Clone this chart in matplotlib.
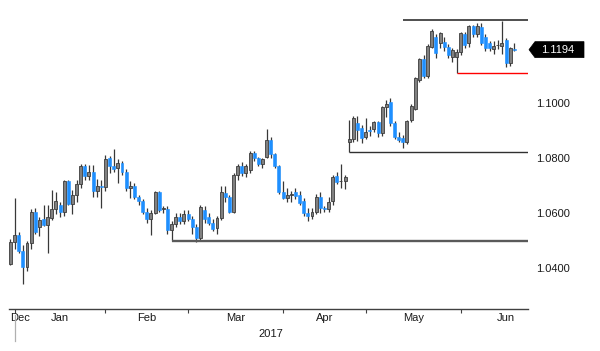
import matplotlib
matplotlib.use("Agg")
import matplotlib.pyplot as plt
from matplotlib import font_manager
from matplotlib.patches import Polygon
from matplotlib.lines import Line2D
import pandas as pd
import numpy as np

# ---------------- data (EUR/USD daily candles) ----------------
dates = pd.bdate_range("2016-12-29", "2017-06-19")

opens = [
    1.0415, 1.0495,
    1.0520, 1.0460, 1.0405, 1.0490, 1.0605, 1.0550, 1.0578, 1.0555, 1.0583, 1.0615,
    1.0630, 1.0605, 1.0715, 1.0633, 1.0665, 1.0705, 1.0770, 1.0735, 1.0748, 1.0680,
    1.0700, 1.0693,
    1.0800, 1.0770, 1.0765, 1.0782, 1.0750, 1.0690, 1.0700, 1.0660, 1.0645, 1.0605,
    1.0580, 1.0600, 1.0677, 1.0615, 1.0615, 1.0540, 1.0560, 1.0585, 1.0570, 1.0595,
    1.0580, 1.0550, 1.0508, 1.0612, 1.0585, 1.0565, 1.0545, 1.0582, 1.0673, 1.0658,
    1.0605, 1.0738, 1.0770, 1.0745, 1.0756, 1.0818, 1.0800, 1.0780, 1.0804, 1.0865,
    1.0815, 1.0772, 1.0675,
    1.0655, 1.0667, 1.0675, 1.0665, 1.0645, 1.0600, 1.0590, 1.0605, 1.0660, 1.0617,
    1.0615, 1.0645, 1.0735, 1.0715, 1.0716, 1.0858, 1.0869, 1.0927, 1.0909, 1.0876,
    1.0902, 1.0905, 1.0931, 1.0891, 1.0985, 1.1004, 1.0927, 1.0876, 1.0873, 1.0858,
    1.0938, 1.0980, 1.1085, 1.1160, 1.1100, 1.1205, 1.1240, 1.1218, 1.1222, 1.1204,
    1.1167, 1.1167, 1.1185,
    1.1251, 1.1218, 1.1280, 1.1250, 1.1276, 1.1240, 1.1218, 1.1198, 1.1210, 1.1207,
    1.1229, 1.1145, 1.1198,
]
highs = [
    1.0505, 1.0653,
    1.0530, 1.0485, 1.0500, 1.0615, 1.0620, 1.0585, 1.0630, 1.0630, 1.0685, 1.0675,
    1.0640, 1.0720, 1.0720, 1.0684, 1.0720, 1.0778, 1.0780, 1.0775, 1.0775, 1.0725,
    1.0720, 1.0810,
    1.0808, 1.0833, 1.0795, 1.0790, 1.0760, 1.0715, 1.0710, 1.0665, 1.0650, 1.0620,
    1.0610, 1.0680, 1.0680, 1.0625, 1.0625, 1.0570, 1.0600, 1.0600, 1.0610, 1.0610,
    1.0590, 1.0560, 1.0630, 1.0625, 1.0600, 1.0580, 1.0590, 1.0700, 1.0700, 1.0665,
    1.0745, 1.0780, 1.0785, 1.0780, 1.0825, 1.0825, 1.0805, 1.0800, 1.0905, 1.0875,
    1.0820, 1.0775, 1.0715,
    1.0690, 1.0680, 1.0690, 1.0680, 1.0655, 1.0620, 1.0620, 1.0670, 1.0678, 1.0625,
    1.0660, 1.0740, 1.0750, 1.0777, 1.0740, 1.0938, 1.0951, 1.0953, 1.0920, 1.0945,
    1.0915, 1.0935, 1.0935, 1.0990, 1.1011, 1.1020, 1.0935, 1.0895, 1.0885, 1.0940,
    1.0995, 1.1095, 1.1165, 1.1175, 1.1215, 1.1268, 1.1250, 1.1260, 1.1240, 1.1215,
    1.1200, 1.1195, 1.1260,
    1.1260, 1.1285, 1.1285, 1.1290, 1.1290, 1.1250, 1.1225, 1.1225, 1.1230, 1.1298,
    1.1235, 1.1205, 1.1218,
]
lows = [
    1.0410, 1.0470,
    1.0455, 1.0340, 1.0390, 1.0470, 1.0522, 1.0515, 1.0552, 1.0455, 1.0575, 1.0595,
    1.0585, 1.0590, 1.0630, 1.0596, 1.0640, 1.0690, 1.0720, 1.0720, 1.0660, 1.0660,
    1.0620, 1.0680,
    1.0745, 1.0750, 1.0710, 1.0740, 1.0680, 1.0655, 1.0650, 1.0630, 1.0595, 1.0565,
    1.0521, 1.0595, 1.0605, 1.0600, 1.0525, 1.0500, 1.0550, 1.0560, 1.0560, 1.0570,
    1.0525, 1.0495, 1.0500, 1.0565, 1.0555, 1.0535, 1.0525, 1.0575, 1.0640, 1.0600,
    1.0600, 1.0720, 1.0735, 1.0730, 1.0745, 1.0790, 1.0770, 1.0765, 1.0800, 1.0800,
    1.0765, 1.0670, 1.0650,
    1.0640, 1.0640, 1.0650, 1.0630, 1.0590, 1.0570, 1.0580, 1.0595, 1.0600, 1.0605,
    1.0605, 1.0630, 1.0705, 1.0690, 1.0687, 1.0821, 1.0860, 1.0862, 1.0855, 1.0870,
    1.0880, 1.0895, 1.0875, 1.0880, 1.0949, 1.0915, 1.0870, 1.0860, 1.0838, 1.0850,
    1.0930, 1.0975, 1.1075, 1.1090, 1.1090, 1.1200, 1.1165, 1.1200, 1.1190, 1.1165,
    1.1150, 1.1109, 1.1175,
    1.1200, 1.1205, 1.1240, 1.1240, 1.1210, 1.1190, 1.1190, 1.1180, 1.1195, 1.1180,
    1.1130, 1.1135, 1.1190,
]
closes = [
    1.0495, 1.0520,
    1.0460, 1.0405, 1.0490, 1.0605, 1.0530, 1.0575, 1.0556, 1.0585, 1.0615, 1.0645,
    1.0605, 1.0715, 1.0633, 1.0665, 1.0705, 1.0770, 1.0735, 1.0748, 1.0680, 1.0700,
    1.0693, 1.0798,
    1.0770, 1.0760, 1.0782, 1.0750, 1.0690, 1.0700, 1.0660, 1.0645, 1.0605, 1.0580,
    1.0600, 1.0677, 1.0612, 1.0615, 1.0540, 1.0560, 1.0585, 1.0570, 1.0595, 1.0580,
    1.0550, 1.0508, 1.0622, 1.0580, 1.0565, 1.0542, 1.0582, 1.0675, 1.0658, 1.0605,
    1.0738, 1.0770, 1.0745, 1.0772, 1.0818, 1.0800, 1.0780, 1.0795, 1.0865, 1.0815,
    1.0772, 1.0675, 1.0655,
    1.0667, 1.0670, 1.0663, 1.0635, 1.0600, 1.0590, 1.0605, 1.0660, 1.0617, 1.0615,
    1.0640, 1.0730, 1.0713, 1.0716, 1.0730, 1.0870, 1.0945, 1.0902, 1.0873, 1.0895,
    1.0898, 1.0931, 1.0891, 1.0985, 1.0998, 1.0927, 1.0876, 1.0866, 1.0860, 1.0935,
    1.0990, 1.1090, 1.1160, 1.1100, 1.1208, 1.1262, 1.1182, 1.1255, 1.1204, 1.1175,
    1.1193, 1.1185, 1.1255,
    1.1211, 1.1280, 1.1250, 1.1280, 1.1218, 1.1200, 1.1200, 1.1208, 1.1212, 1.1218,
    1.1145, 1.1200, 1.1194,
]

# annotation levels: (price, start date)
levels = [1.1302, 1.1110, 1.0822, 1.0498]
level_starts = ["2017-05-11", "2017-05-30", "2017-04-24", "2017-02-22"]
level_colors = ["#404040", "#ff0000", "#303030", "#5a5a5a"]
level_widths = [1.3, 1.0, 1.0, 1.7]

yticks = [1.04, 1.06, 1.08, 1.10]
year_label = "2017"

# ---------------- font ----------------
avail = {f.name for f in font_manager.fontManager.ttflist}
fam = "Liberation Sans Narrow" if "Liberation Sans Narrow" in avail else "Liberation Sans"
plt.rcParams["font.family"] = [fam, "DejaVu Sans"]

# ---------------- figure ----------------
W, H = 600, 351
fig = plt.figure(figsize=(W / 100, H / 100), dpi=100)
ax = fig.add_axes([9 / W, (H - 309) / H, 519 / W, 304 / H])

n = len(closes)
idx = np.arange(n)
o = np.array(opens); h = np.array(highs); l = np.array(lows); c = np.array(closes)

up = c >= o
ax.vlines(idx, l, h, color="#383838", lw=0.9, zorder=2)
body_h = np.maximum(np.abs(c - o), 0.00025)
body_b = np.minimum(o, c)
ax.bar(idx[up], body_h[up], bottom=body_b[up], width=0.72,
       color="#808080", edgecolor="#3c3c3c", linewidth=0.6, zorder=3)
ax.bar(idx[~up], body_h[~up], bottom=body_b[~up], width=0.72,
       color="#1e8fff", edgecolor="#1e8fff", linewidth=0.4, zorder=3)

xmin, xmax = -0.36, 125.3
ax.set_xlim(xmin, xmax)
ax.set_ylim(1.02509, 1.13564)

date_index = {d.strftime("%Y-%m-%d"): i for i, d in enumerate(dates)}
for lev, st, col, lw in zip(levels, level_starts, level_colors, level_widths):
    ax.hlines(lev, date_index[st], xmax, color=col, lw=lw, zorder=4)

# spines
for s in ["top", "right", "left"]:
    ax.spines[s].set_visible(False)
ax.spines["bottom"].set_color("#404040")
ax.spines["bottom"].set_linewidth(1.0)

# y axis on right
ax.yaxis.tick_right()
ax.set_yticks(yticks)
ax.set_yticklabels([f"{v:.4f}" for v in yticks])
ax.tick_params(axis="y", length=0, pad=6, labelsize=8, labelcolor="#1a1a1a")

# x axis: ticks at last trading day of each month, labels centred between them
months = dates.to_period("M")
month_last = [i for i in range(n) if i == n - 1 or months[i] != months[i + 1]][:-1]
ax.set_xticks(month_last)
ax.set_xticklabels([])
ax.tick_params(axis="x", which="major", length=3, width=0.8, color="#404040")

month_names = ["Dec", "Jan", "Feb", "Mar", "Apr", "May", "Jun"]
centers = [2.3]
for a, b in zip(month_last[:-1], month_last[1:]):
    centers.append((a + b) / 2)
# June: centred on the full month (22 weekdays)
centers.append(month_last[-1] + 11)
ax.set_xticks(centers, minor=True)
ax.set_xticklabels(month_names, minor=True)
ax.tick_params(axis="x", which="minor", length=0, pad=3, labelsize=8, labelcolor="#1a1a1a")

# year label and separator
fig.canvas.draw()
x_sep = ax.transData.transform((month_last[0], 0))[0]
fig.add_artist(Line2D([x_sep / W, x_sep / W], [(H - 315) / H, (H - 341) / H],
                      transform=fig.transFigure, color="#b0b0b0", lw=0.9))
x_right = ax.transData.transform((xmax, 0))[0]
fig.text(((x_sep + x_right) / 2) / W, (H - 334) / H, year_label, ha="center", va="center",
         fontsize=8, color="#1a1a1a")

# last price tag
y_tag = ax.transData.transform((0, closes[-1]))[1]
tx0, tx1, tip = 535, 584, 529
pts = [(tip, y_tag), (tx0, y_tag + 8), (tx1, y_tag + 8), (tx1, y_tag - 8), (tx0, y_tag - 8)]
fig.add_artist(Polygon([(px / W, py / H) for px, py in pts], closed=True,
                       transform=fig.transFigure, facecolor="black", edgecolor="black", lw=0.5))
fig.text(558 / W, y_tag / H, f"{closes[-1]:.4f}", ha="center", va="center",
         fontsize=8, color="white")

fig.savefig("out.png", dpi=100)
